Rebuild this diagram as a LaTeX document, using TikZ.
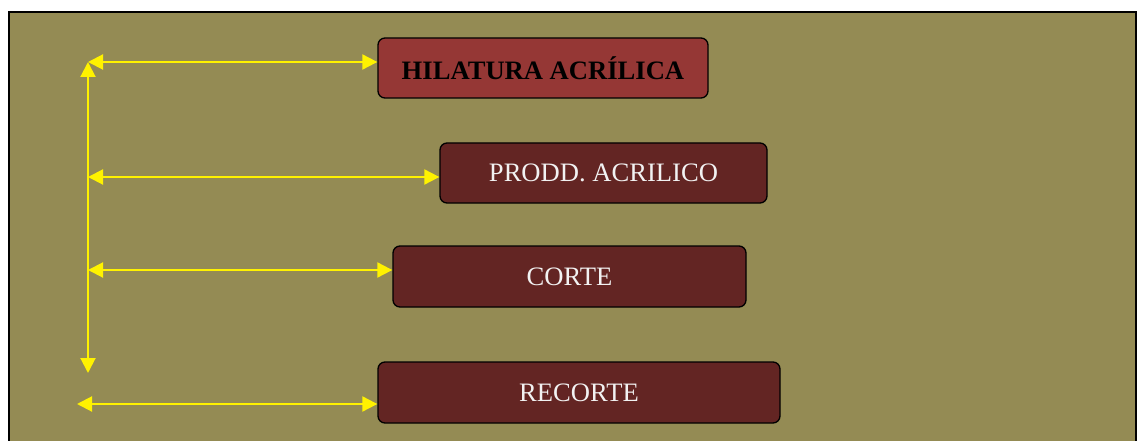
\documentclass[tikz,border=0pt]{standalone}
\usepackage{fontspec}
\setmainfont{Liberation Serif}
\usetikzlibrary{arrows.meta}
\definecolor{olivebg}{RGB}{148,139,84}
\definecolor{redbox}{RGB}{149,55,53}
\definecolor{darkbox}{RGB}{99,37,35}
\tikzstyle{proc}=[draw=black, line width=1.3pt, rounded corners=7pt, fill=darkbox, text=white!95!black, inner sep=0pt, font=\fontsize{26.6}{30}\selectfont]
\tikzstyle{link}=[yellow, line width=2pt, {Triangle[length=15pt,width=15pt]}-{Triangle[length=15pt,width=15pt]}]

\begin{document}
\begin{tikzpicture}[x=1pt, y=-1pt]
\useasboundingbox (0,0) rectangle (1138,441);
% Background
    \fill[olivebg] (9,12) rectangle (1136,445);
    \draw[line width=2pt] (9,460) -- (9,12) -- (1136,12) -- (1136,460);
% Boxes
    \node[proc, fill=redbox, text=black, font=\fontsize{26.6}{30}\selectfont\bfseries, minimum width=330pt, minimum height=60pt] (hilatura) at (543,68) {HILATURA ACRÍLICA};
    \node[proc, minimum width=327pt, minimum height=60pt] (prodd) at (603.5,173) {PRODD. ACRILICO};
    \node[proc, minimum width=353pt, minimum height=61pt] (corte) at (569.5,276.5) {CORTE};
    \node[proc, minimum width=402pt, minimum height=61pt] (recorte) at (579,392.5) {RECORTE};
% Free ends on the left
    \coordinate (top) at (88,62);
    \coordinate (bot) at (88,373);
    \coordinate (p2) at (88,177);
    \coordinate (p3) at (88,270);
    \coordinate (p4) at (77,404);
% Arrows
    \draw[link] (top) -- (bot);
    \draw[link] (top) -- (top -| hilatura.west);
    \draw[link] (p2) -- (p2 -| prodd.west);
    \draw[link] (p3) -- (p3 -| corte.west);
    \draw[link] (p4) -- (p4 -| recorte.west);
\end{tikzpicture}
\end{document}
